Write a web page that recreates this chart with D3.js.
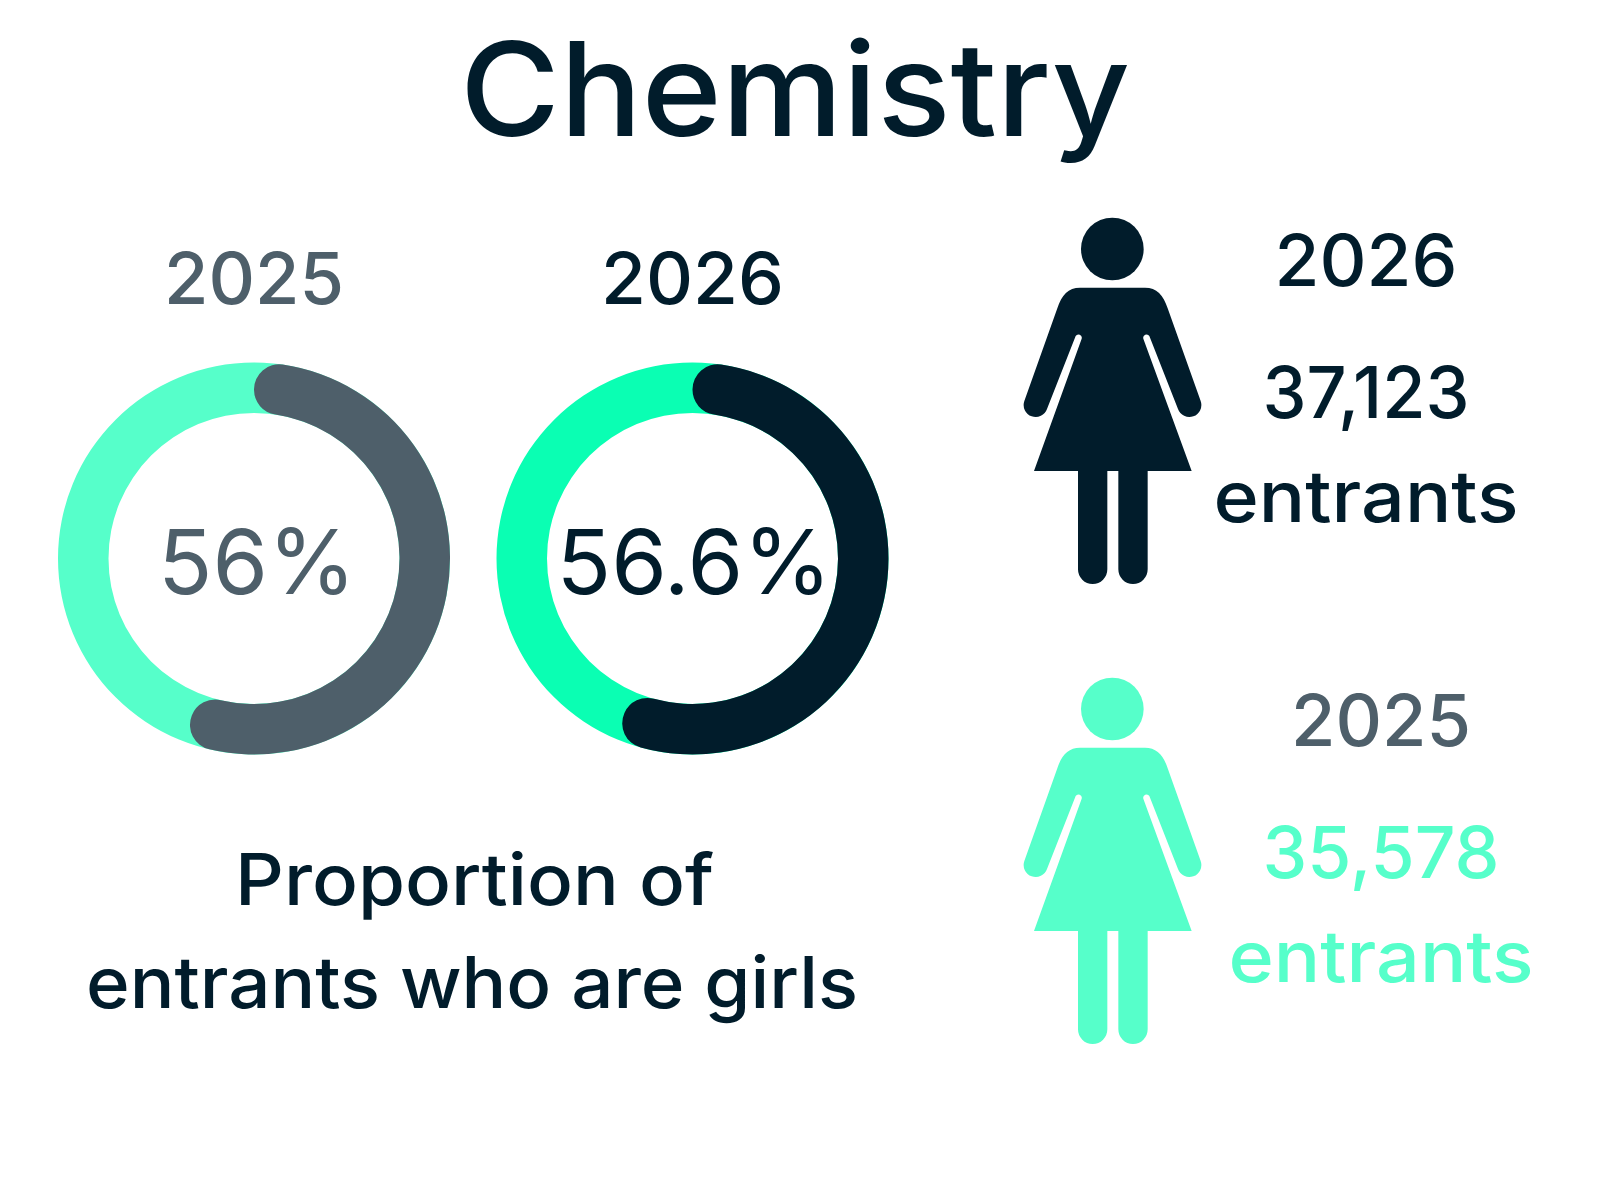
<!DOCTYPE html>
<html>
<head>
    <meta charset="utf-8">
    <style>
        body { margin: 0; background: #fff; }
        text { font-family: "Inter", sans-serif; text-anchor: middle; }
    </style>
    <script src="https://cdnjs.cloudflare.com/ajax/libs/d3/7.8.5/d3.min.js"></script>
    <title>Chemistry</title>
</head>
<body>
    <script>
        const title = "Chemistry";
        const years = ["2025", "2026"];
        const shares = [56, 56.6];
        const shareLabels = ["56%", "56.6%"];
        const entrants = ["35,578", "37,123"];
        const caption = ["Proportion of", "entrants who are girls"];

        const navy = "#011c2b", grey = "#4e5f6a";
        const green = "#0affb3", paleGreen = "#56ffca";

        const svg = d3.select("body").append("svg")
            .attr("width", 1600).attr("height", 1200);

        // the original face is wider than Inter, so stretch text to its measured width
        function label(parent, str, x, y, size, weight, fill, width) {
            return parent.append("text").attr("x", x).attr("y", y)
                .attr("textLength", width).attr("lengthAdjust", "spacingAndGlyphs")
                .style("font-size", size + "px").style("font-weight", weight)
                .style("fill", fill).text(str);
        }

        label(svg, title, 795, 136, 130, 500, navy, 670);

        // donuts
        const angle = d3.scaleLinear().domain([0, 100]).range([0, 2 * Math.PI]);
        const ring = d3.arc().innerRadius(145.5).outerRadius(196);
        const rounded = d3.arc().innerRadius(145.5).outerRadius(196).cornerRadius(25);

        const donutX = [254, 692.5];
        const donutFg = [grey, navy];
        const donutBg = [paleGreen, green];
        const shareWidth = [198, 275];
        const shareShift = [3, 1.5];
        const yearWidth = [180, 183];

        years.forEach((year, i) => {
            const g = svg.append("g").attr("transform", `translate(${donutX[i]},558.5)`);
            g.append("path")
                .attr("d", ring({ startAngle: 0, endAngle: 2 * Math.PI }))
                .style("fill", donutBg[i]);
            g.append("path")
                .attr("d", rounded({ startAngle: 0, endAngle: angle(shares[i]) }))
                .style("fill", donutFg[i]);
            label(g, shareLabels[i], shareShift[i], 35, 90, 375, donutFg[i], shareWidth[i]);
            label(g, year, 0, -255, 72, 500, donutFg[i], yearWidth[i]);
        });

        label(svg, caption[0], 474.5, 905, 71, 500, navy, 479);
        label(svg, caption[1], 472, 1008, 71, 500, navy, 772);

        // pictogram drawn in its own 750x1200 box, scaled down by three
        const figure = "M240,263 L435,263 C470,263 490,285 503,325 L602,603 A36,36 0 0 1 534,627 L448,408 A10,10 0 0 0 430,416 L575,813 L443,813 L443,1108 A44,44 0 0 1 355,1108 L355,813 L322,813 L322,1108 A44,44 0 0 1 234,1108 L234,813 L102,813 L245,416 A10,10 0 0 0 227,408 L141,627 A36,36 0 0 1 73,603 L172,325 C185,285 205,263 240,263 Z";

        const personY = [660, 200];
        const personFill = [paleGreen, navy];
        const blockX = [1381, 1366];
        const blockY = [746, 286];
        const yearFill = [grey, navy];
        const entrantWidth = [237, 207];

        years.forEach((year, i) => {
            const p = svg.append("g")
                .attr("transform", `translate(1000,${personY[i]}) scale(${1 / 3})`)
                .style("fill", personFill[i]);
            p.append("circle").attr("cx", 337).attr("cy", 147).attr("r", 94);
            p.append("path").attr("d", figure);

            label(svg, year, blockX[i], blockY[i], 72, 500, yearFill[i], yearWidth[i]);
            label(svg, entrants[i], blockX[i], blockY[i] + 132, 72, 500, personFill[i], entrantWidth[i]);
            label(svg, "entrants", blockX[i], blockY[i] + 236, 71, 500, personFill[i], 305);
        });
    </script>
</body>
</html>
